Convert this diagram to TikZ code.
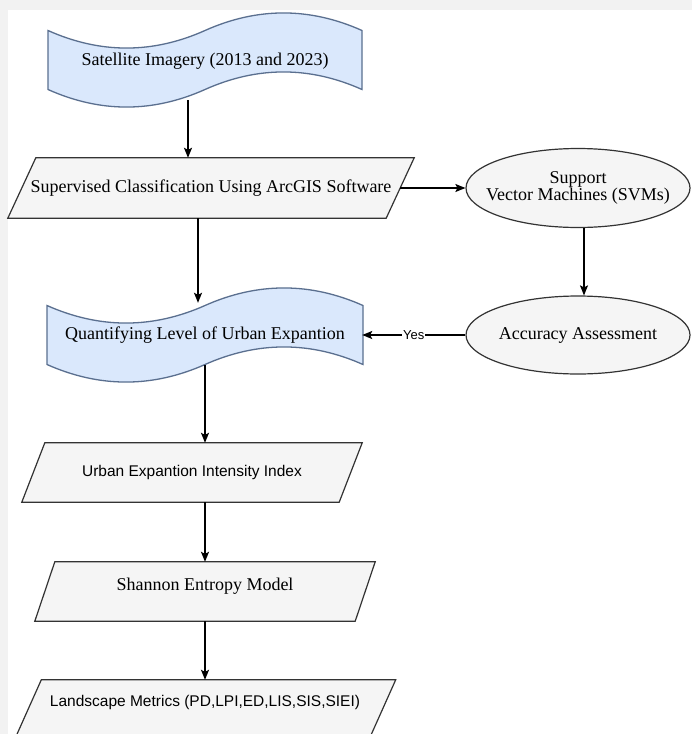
\documentclass[tikz,border=0pt]{standalone}
\usepackage{fontspec}
\setmainfont{Liberation Serif}
\setsansfont{Liberation Sans}
\usetikzlibrary{arrows.meta,calc,backgrounds,shapes.geometric}
\definecolor{bgc}{HTML}{F2F2F2}
\definecolor{tapefill}{HTML}{DAE8FC}
\definecolor{tapeline}{HTML}{5A6F8F}
\definecolor{boxfill}{HTML}{F5F5F5}
\definecolor{boxline}{HTML}{333333}
% tape (wavy banner): x0, y0 (top), width, height, wave depth  -- pixel coords, y down
\newcommand{\tapeshape}[5]{%
  \draw[tapestyle]
    ({#1},{#2+0.5*#5})
    .. controls ({#1+#3/6},{#2+1.1*#5}) and ({#1+#3/3},{#2+1.1*#5}) .. ({#1+#3/2},{#2+0.5*#5})
    .. controls ({#1+2*#3/3},{#2-0.1*#5}) and ({#1+5*#3/6},{#2-0.1*#5}) .. ({#1+#3},{#2+0.5*#5})
    -- ({#1+#3},{#2+#4-0.5*#5})
    .. controls ({#1+5*#3/6},{#2+#4-1.1*#5}) and ({#1+2*#3/3},{#2+#4-1.1*#5}) .. ({#1+#3/2},{#2+#4-0.5*#5})
    .. controls ({#1+#3/3},{#2+#4+0.1*#5}) and ({#1+#3/6},{#2+#4+0.1*#5}) .. ({#1},{#2+#4-0.5*#5})
    -- cycle;}
% parallelogram outline behind a named node: node, slant
\newcommand{\paral}[2]{%
  \begin{scope}[on background layer]
    \draw[parastyle] ([xshift=#2pt]#1.north west) -- (#1.north east)
      -- ([xshift=-#2pt]#1.south east) -- (#1.south west) -- cycle;
  \end{scope}}
\newcommand{\zw}[1]{\makebox[0pt][c]{#1}}
\begin{document}
\begin{tikzpicture}[x=1pt,y=-1pt,
  tapestyle/.style={draw=tapeline,fill=tapefill,line width=1.3pt},
  parastyle/.style={draw=boxline,fill=boxfill,line width=1.2pt},
  serifbig/.style={font=\fontsize{18}{17}\selectfont},
  sansmid/.style={font=\sffamily\fontsize{15.5}{18}\selectfont},
  tapetext/.style={serifbig,inner sep=0pt,minimum width=314pt,minimum height=98pt},
  paratext/.style={inner sep=0pt,minimum height=60pt},
  ellnode/.style={ellipse,draw=boxline,fill=boxfill,line width=1.2pt,serifbig,
    inner sep=0pt,minimum width=224pt,minimum height=79pt,align=center},
  arr/.style={line width=1.3pt,-{Stealth[length=10pt,width=8pt,inset=2pt]}},
  lbl/.style={font=\sffamily\fontsize{13}{15}\selectfont,fill=white,inner sep=1pt}]
\useasboundingbox (0,0) rectangle (692,734);
\begin{scope}[on background layer]
  \fill[bgc] (0,0) rectangle (692,734);
  \fill[white] (8,10) rectangle (692,734);
\end{scope}

% banners
\tapeshape{48}{11}{314}{98}{39}
\node[tapetext] (sat) at (205,61) {Satellite Imagery (2013 and 2023)};
\tapeshape{47}{286}{316}{98}{39}
\node[tapetext] (quant) at (205,335) {Quantifying Level of Urban Expantion};

% parallelograms
\node[paratext,serifbig,minimum width=406pt] (sup) at (211,188)
  {Supervised Classification Using ArcGIS Software};
\paral{sup}{28}
\node[paratext,sansmid,minimum width=340pt,minimum height=59pt] (uei) at (192,472.5)
  {Urban Expantion Intensity Index};
\paral{uei}{23}
\node[paratext,serifbig,minimum width=340pt,minimum height=59pt,text depth=14pt] (sem) at (205,591.5)
  {Shannon Entropy Model};
\paral{sem}{20}
\node[paratext,sansmid,minimum width=381pt,text depth=18pt] (lm) at (205,710)
  {Landscape Metrics (PD,LPI,ED,LIS,SIS,SIEI)};
\paral{lm}{27}

% ellipses
\node[ellnode] (svm) at (578,188) {\zw{Support}\\\zw{Vector Machines (SVMs)}};
\node[ellnode,minimum height=78pt] (acc) at (578,335) {\zw{Accuracy Assessment}};

% connectors
\coordinate (a1) at ([xshift=-17pt,yshift=10pt]sat.south);
\draw[arr] (a1) -- (a1 |- sup.north);
\draw[arr] ([xshift=-14pt]sup.east) -- (svm.west);
\coordinate (a2) at ([xshift=-13pt]sup.south);
\draw[arr] (a2) -- ($(a2 |- quant.north)+(0,17)$);
\coordinate (a3) at ($(quant.south)+(0,-19)$);
\draw[arr] (a3) -- (a3 |- uei.north);
\draw[arr] (sem.north |- uei.south) -- (sem.north);
\draw[arr] (sem.south) -- (sem.south |- lm.north);
\coordinate (b1) at ([xshift=6pt]svm.south);
\draw[arr] (b1) -- (b1 |- acc.north);
\draw[arr] (acc.west) -- node[lbl] {Yes} (quant.east);
\end{tikzpicture}
\end{document}
